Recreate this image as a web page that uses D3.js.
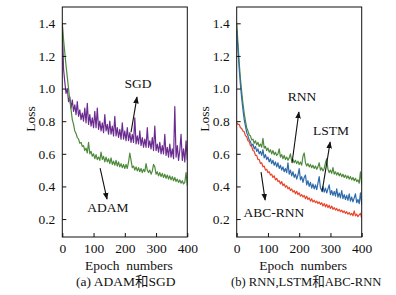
<!DOCTYPE html>
<html><head><meta charset="utf-8">
<script src="https://cdn.jsdelivr.net/npm/d3@7"></script>
<style>
html,body{margin:0;padding:0;background:#fff;}
svg{display:block;}
text{font-family:"Liberation Serif","Times New Roman",serif;fill:#111;}
.cjk{font-family:"Liberation Serif","Noto Sans CJK SC",serif;}
</style></head>
<body>
<svg id="c" width="396" height="295"></svg>
<script>
// ---- data (epoch step 4, 0..400) ----
const epochs = d3.range(0, 401, 4);
const yTicks = [0.2, 0.4, 0.6, 0.8, 1.0, 1.2, 1.4];
const xTicks = [0, 100, 200, 300, 400];

const adam = [1.40,1.30,1.22,1.14,1.07,1.00,0.93,0.87,0.81,0.78,0.74,0.725,0.70,0.69,0.665,0.67,0.645,0.65,0.62,0.635,
0.605,0.67,0.60,0.615,0.585,0.60,0.57,0.595,0.565,0.58,0.56,0.61,0.565,0.585,0.55,0.58,0.55,0.57,0.54,0.575,
0.535,0.555,0.53,0.56,0.525,0.55,0.52,0.54,0.515,0.535,0.51,0.535,0.51,0.55,0.605,0.56,0.515,0.525,0.50,0.52,
0.495,0.515,0.49,0.51,0.485,0.505,0.49,0.54,0.50,0.485,0.50,0.475,0.495,0.535,0.52,0.475,0.49,0.465,0.485,0.46,
0.48,0.455,0.475,0.45,0.47,0.445,0.465,0.44,0.46,0.435,0.455,0.43,0.445,0.425,0.44,0.42,0.435,0.415,0.425,0.485,0.405];

const sgd = [1.40,1.12,1.04,0.97,1.00,0.92,0.95,0.88,0.93,0.86,0.90,0.84,0.92,0.83,0.87,0.81,0.85,0.80,0.88,0.79,
0.91,0.78,0.84,0.77,0.82,0.76,0.86,0.76,0.88,0.75,0.80,0.74,0.79,0.73,0.84,0.74,0.78,0.72,0.80,0.72,
0.77,0.71,0.83,0.71,0.76,0.70,0.75,0.69,0.79,0.69,0.74,0.68,0.76,0.68,0.73,0.67,0.72,0.67,0.82,0.66,
0.71,0.66,0.74,0.65,0.70,0.64,0.69,0.64,0.76,0.64,0.68,0.63,0.70,0.62,0.77,0.62,0.66,0.61,0.67,0.60,
0.65,0.60,0.72,0.59,0.64,0.58,0.66,0.58,0.63,0.57,0.89,0.58,0.65,0.56,0.62,0.72,0.56,0.63,0.55,0.68,0.56];

const rnn = [1.40,1.28,1.16,1.06,0.98,0.91,0.85,0.80,0.76,0.74,0.715,0.71,0.685,0.69,0.665,0.68,0.655,0.67,0.645,0.66,
0.64,0.695,0.635,0.645,0.62,0.635,0.61,0.625,0.60,0.62,0.595,0.61,0.59,0.60,0.63,0.58,0.595,0.57,0.59,0.565,
0.58,0.56,0.575,0.60,0.555,0.565,0.545,0.56,0.54,0.555,0.535,0.55,0.53,0.585,0.605,0.545,0.525,0.54,0.52,0.535,
0.515,0.53,0.51,0.525,0.505,0.52,0.545,0.50,0.515,0.495,0.51,0.545,0.57,0.505,0.485,0.50,0.48,0.515,0.475,0.49,
0.47,0.485,0.465,0.48,0.46,0.475,0.455,0.47,0.45,0.465,0.445,0.46,0.44,0.455,0.435,0.45,0.43,0.44,0.42,0.49,0.41];

const lstm = [1.36,1.24,1.12,1.02,0.94,0.87,0.81,0.77,0.73,0.71,0.685,0.675,0.65,0.66,0.63,0.645,0.615,0.63,0.60,0.615,
0.59,0.625,0.575,0.595,0.565,0.58,0.55,0.57,0.54,0.56,0.53,0.55,0.52,0.545,0.51,0.53,0.50,0.52,0.49,0.51,
0.485,0.545,0.475,0.50,0.465,0.49,0.455,0.475,0.445,0.47,0.51,0.44,0.46,0.425,0.455,0.47,0.41,0.435,0.40,0.425,
0.39,0.415,0.385,0.41,0.38,0.42,0.46,0.39,0.375,0.40,0.365,0.39,0.36,0.385,0.41,0.35,0.375,0.345,0.37,0.34,
0.385,0.335,0.36,0.33,0.375,0.325,0.35,0.32,0.345,0.315,0.355,0.31,0.335,0.305,0.33,0.355,0.30,0.32,0.295,0.36,0.29];

const abcRnn = [0.79,0.78,0.78,0.76,0.755,0.74,0.735,0.71,0.705,0.68,0.675,0.65,0.645,0.62,0.615,0.59,0.59,0.565,0.565,0.54,
0.545,0.52,0.525,0.50,0.505,0.485,0.49,0.47,0.475,0.455,0.465,0.44,0.45,0.43,0.435,0.415,0.43,0.405,0.415,0.395,
0.405,0.385,0.395,0.375,0.385,0.365,0.375,0.355,0.37,0.35,0.36,0.34,0.35,0.335,0.345,0.325,0.34,0.32,0.33,0.31,
0.325,0.305,0.315,0.30,0.31,0.295,0.305,0.29,0.30,0.28,0.295,0.275,0.29,0.27,0.285,0.265,0.28,0.26,0.27,0.255,
0.265,0.25,0.26,0.245,0.255,0.24,0.25,0.235,0.245,0.23,0.24,0.225,0.235,0.22,0.25,0.22,0.23,0.215,0.225,0.235,0.205];

// annotations: [label, tail epoch, tail loss, head epoch, head loss, text epoch, text loss]
const notesA = [["SGD",220,0.733,239,0.948,242,1.003],["ADAM",121,0.512,143,0.322,146,0.242]];
const notesB = [["RNN",177,0.543,199,0.856,209,0.923],["LSTM",273,0.365,299,0.672,302,0.715],["ABC-RNN",78,0.488,91,0.316,119,0.212]];

const panels = [
  {left:62.3, caption:"(a) ADAM和SGD", capSize:"13.5px", capDx:1, series:[{v:sgd,c:"#6a2c8e"},{v:adam,c:"#4e8a3b"}], notes:notesA},
  {left:236.7, caption:"(b) RNN,LSTM和ABC-RNN", capSize:"12.6px", capDx:7, series:[{v:rnn,c:"#4e8a3b"},{v:lstm,c:"#2f6aab"},{v:abcRnn,c:"#e8452c"}], notes:notesB}
];

const svg = d3.select("#c");
svg.append("defs").append("marker").attr("id","ah").attr("viewBox","0 0 10 10")
  .attr("refX",9).attr("refY",5).attr("markerWidth",7).attr("markerHeight",7)
  .attr("markerUnits","userSpaceOnUse").attr("orient","auto")
  .append("path").attr("d","M0,1 L10,5 L0,9 Z").attr("fill","#111");

const plotTop = 7, plotBottom = 237, plotWidth = 125, fs = "13.5px";
const y = d3.scaleLinear().domain([0.09, 1.5]).range([plotBottom, plotTop]);

panels.forEach(p => {
  const x = d3.scaleLinear().domain([0, 400]).range([p.left, p.left + plotWidth]);
  const g = svg.append("g");
  const clipId = "clip" + Math.round(p.left);
  svg.append("clipPath").attr("id", clipId).append("rect")
    .attr("x", p.left).attr("y", plotTop).attr("width", plotWidth).attr("height", plotBottom - plotTop);
  const line = d3.line().x((d,i)=>x(epochs[i])).y(d=>y(d));
  p.series.forEach(s => {
    g.append("path").attr("d", line(s.v)).attr("fill","none").attr("stroke", s.c)
      .attr("stroke-width",1.2).attr("stroke-linejoin","round").attr("clip-path","url(#"+clipId+")");
  });
  g.append("rect").attr("x",p.left).attr("y",plotTop).attr("width",plotWidth).attr("height",plotBottom-plotTop)
    .attr("fill","none").attr("stroke","#111").attr("stroke-width",1);
  const ax = g.append("g").attr("transform",`translate(0,${plotBottom})`)
    .call(d3.axisBottom(x).tickValues(xTicks).tickSize(-4).tickPadding(6).tickFormat(d3.format("d")));
  const ay = g.append("g").attr("transform",`translate(${p.left},0)`)
    .call(d3.axisLeft(y).tickValues(yTicks).tickSize(-4).tickPadding(7).tickFormat(d3.format(".1f")));
  [ax, ay].forEach(a => {
    a.select(".domain").remove();
    a.selectAll("line").attr("stroke","#111");
    a.selectAll("text").style("font-size",fs).style("font-family","'Liberation Serif',serif").attr("fill","#111");
  });
  g.append("text").attr("transform",`translate(${p.left-32},119) rotate(-90)`)
    .attr("text-anchor","middle").attr("dominant-baseline","central").style("font-size",fs).text("Loss");
  g.append("text").attr("x",p.left+plotWidth/2+4).attr("y",270).attr("text-anchor","middle")
    .style("font-size",fs).style("white-space","pre").text("Epoch  numbers");
  g.append("text").attr("class","cjk").attr("x",p.left+plotWidth/2+p.capDx).attr("y",286).attr("text-anchor","middle")
    .style("font-size",p.capSize).text(p.caption);
  p.notes.forEach(n => {
    g.append("line").attr("x1",x(n[1])).attr("y1",y(n[2])).attr("x2",x(n[3])).attr("y2",y(n[4]))
      .attr("stroke","#111").attr("stroke-width",1.1).attr("marker-end","url(#ah)");
    g.append("text").attr("x",x(n[5])).attr("y",y(n[6])).attr("text-anchor","middle")
      .style("font-size",fs).text(n[0]);
  });
});
</script>
</body></html>
